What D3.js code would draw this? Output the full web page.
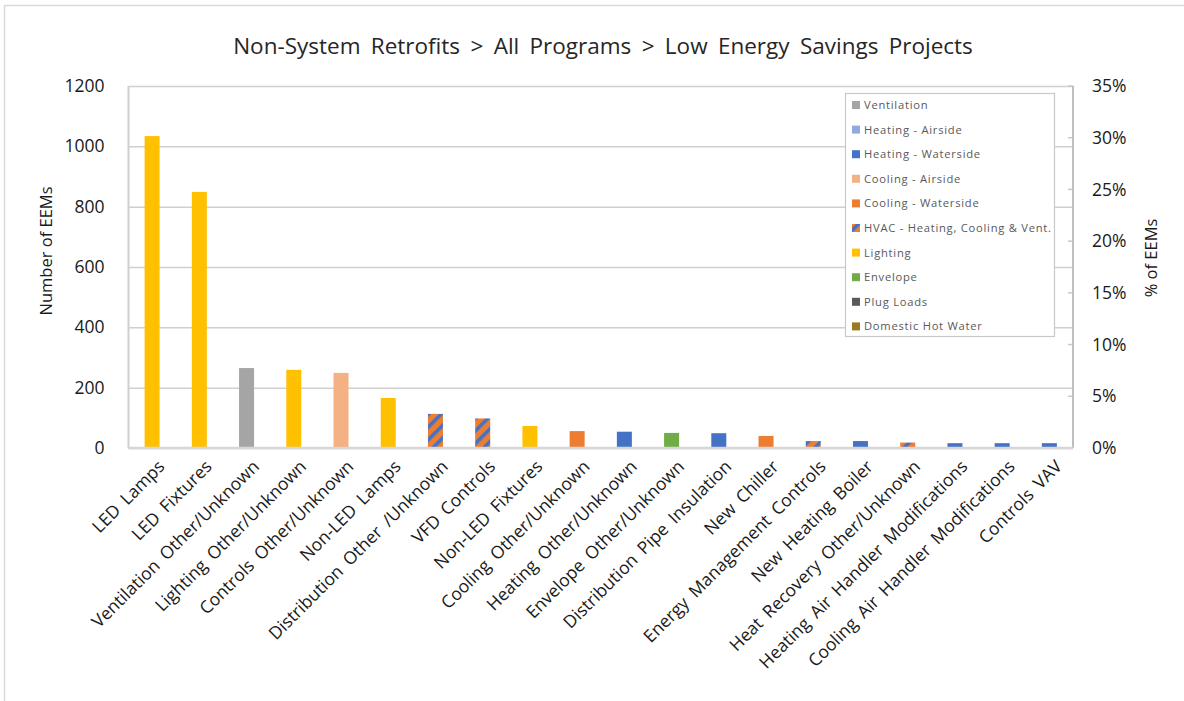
<!DOCTYPE html>
<html>
<head>
<meta charset="utf-8">
<script src="https://cdn.jsdelivr.net/npm/d3@7/dist/d3.min.js"></script>
<style>
  html, body { margin: 0; padding: 0; background: #fff; }
  svg { display: block; }
  text { font-family: "Open Sans", "Noto Sans", sans-serif; }
</style>
</head>
<body>
<svg id="chart" width="1184" height="701"></svg>
<script>
// Measure categories, in descending order of count
const categories = [
  "LED Lamps", "LED Fixtures", "Ventilation Other/Unknown", "Lighting Other/Unknown",
  "Controls Other/Unknown", "Non-LED Lamps", "Distribution Other /Unknown", "VFD Controls",
  "Non-LED Fixtures", "Cooling Other/Unknown", "Heating Other/Unknown", "Envelope Other/Unknown",
  "Distribution Pipe Insulation", "New Chiller", "Energy Management Controls", "New Heating Boiler",
  "Heat Recovery Other/Unknown", "Heating Air Handler Modifications",
  "Cooling Air Handler Modifications", "Controls VAV"
];
// Number of EEMs per category
const counts = [1034, 849, 265, 259, 249, 166, 113, 98, 73, 56, 54, 50, 49, 40, 23, 23, 18, 16, 16, 16];
// End-use group of each category
const groups = [
  "Lighting", "Lighting", "Ventilation", "Lighting", "Cooling - Airside", "Lighting", "HVAC", "HVAC",
  "Lighting", "Cooling - Waterside", "Heating - Waterside", "Envelope", "Heating - Waterside",
  "Cooling - Waterside", "HVAC", "Heating - Waterside", "HVAC", "Heating - Waterside",
  "Heating - Waterside", "Heating - Waterside"
];
// Legend entries and their fills
const legendKeys = [
  "Ventilation", "Heating - Airside", "Heating - Waterside", "Cooling - Airside", "Cooling - Waterside",
  "HVAC", "Lighting", "Envelope", "Plug Loads", "Domestic Hot Water"
];
const legendLabels = [
  "Ventilation", "Heating - Airside", "Heating - Waterside", "Cooling - Airside", "Cooling - Waterside",
  "HVAC - Heating, Cooling & Vent.", "Lighting", "Envelope", "Plug Loads", "Domestic Hot Water"
];
const legendColors = [
  "#a5a5a5", "#8faadc", "#4472c4", "#f4b183", "#ed7d31",
  "url(#hvacHatch)", "#ffc000", "#70ad47", "#595959", "#9c7a24"
];
const leftTicks = [0, 200, 400, 600, 800, 1000, 1200];
const rightTicks = [0, 0.05, 0.10, 0.15, 0.20, 0.25, 0.30, 0.35];

const titleText = "Non-System Retrofits > All Programs > Low Energy Savings Projects";
const yTitle = "Number of EEMs";
const y2Title = "% of EEMs";

const svg = d3.select("#chart");
const plot = { left: 128.5, right: 1073, top: 86, bottom: 448 };

const color = d3.scaleOrdinal().domain(legendKeys).range(legendColors);
const x = d3.scaleBand().domain(categories).range([plot.left, plot.right]).padding(0);
const y = d3.scaleLinear().domain([0, 1200]).range([plot.bottom, plot.top]);
const y2 = d3.scaleLinear().domain([0, 0.35]).range([plot.bottom, plot.top]);
const barW = 15;

// Striped fill for combined HVAC measures
const defs = svg.append("defs");
const pat = defs.append("pattern")
  .attr("id", "hvacHatch")
  .attr("patternUnits", "userSpaceOnUse")
  .attr("width", 9).attr("height", 9)
  .attr("patternTransform", "rotate(45)");
pat.append("rect").attr("width", 9).attr("height", 9).attr("fill", "#ed7d31");
pat.append("rect").attr("width", 3.6).attr("height", 9).attr("fill", "#4472c4");

// Outer chart border
svg.append("rect")
  .attr("x", 4.5).attr("y", 5.5).attr("width", 1200).attr("height", 720)
  .attr("fill", "none").attr("stroke", "#d9d9d9").attr("stroke-width", 1.5);

// Title
svg.append("text")
  .attr("x", 603).attr("y", 54)
  .attr("text-anchor", "middle")
  .attr("font-size", 22.5)
  .attr("word-spacing", 4.5)
  .attr("fill", "#262626")
  .text(titleText);

// Horizontal gridlines
svg.append("g")
  .attr("transform", `translate(${plot.left},0)`)
  .call(d3.axisLeft(y).tickValues(leftTicks).tickSize(-(plot.right - plot.left)).tickFormat(""))
  .call(g => g.select(".domain").remove())
  .call(g => g.selectAll(".tick line").attr("stroke", "#d0d0d0").attr("stroke-width", 1.5));

// Left axis labels
svg.append("g")
  .attr("transform", `translate(${plot.left},0)`)
  .call(d3.axisLeft(y).tickValues(leftTicks).tickSize(0).tickPadding(24).tickFormat(d3.format("d")))
  .call(g => g.select(".domain").remove())
  .call(g => g.selectAll("text").attr("font-size", 17.5).attr("fill", "#1a1a1a")
    .attr("font-family", "Open Sans, sans-serif"));

// Right axis labels
svg.append("g")
  .attr("transform", `translate(${plot.right},0)`)
  .call(d3.axisRight(y2).tickValues(rightTicks).tickSize(0).tickPadding(19).tickFormat(d3.format(".0%")))
  .call(g => g.select(".domain").remove())
  .call(g => g.selectAll("text").attr("font-size", 17.5).attr("fill", "#1a1a1a")
    .attr("font-family", "Open Sans, sans-serif"));

// Right axis inner ticks
svg.append("g")
  .selectAll("line").data(rightTicks).join("line")
  .attr("x1", plot.right - 5).attr("x2", plot.right)
  .attr("y1", d => y2(d)).attr("y2", d => y2(d))
  .attr("stroke", "#c8c8c8").attr("stroke-width", 1.5);

// Bars
svg.append("g")
  .selectAll("rect").data(categories).join("rect")
  .attr("x", d => x(d) + x.bandwidth() / 2 - barW / 2)
  .attr("width", barW)
  .attr("y", (d, i) => y(counts[i]))
  .attr("height", (d, i) => y(0) - y(counts[i]))
  .attr("fill", (d, i) => color(groups[i]));

// Axis lines
svg.append("line")
  .attr("x1", plot.left).attr("x2", plot.left).attr("y1", plot.top).attr("y2", plot.bottom)
  .attr("stroke", "#cfcfcf").attr("stroke-width", 2);
svg.append("line")
  .attr("x1", plot.right).attr("x2", plot.right).attr("y1", plot.top).attr("y2", plot.bottom)
  .attr("stroke", "#bfbfbf").attr("stroke-width", 2);
svg.append("line")
  .attr("x1", plot.left).attr("x2", plot.right).attr("y1", plot.bottom).attr("y2", plot.bottom)
  .attr("stroke", "#d6d6d6").attr("stroke-width", 2.5);

// Category labels, rotated
svg.append("g")
  .selectAll("text").data(categories).join("text")
  .attr("transform", d => `translate(${x(d) + x.bandwidth() / 2 + 5},${plot.bottom + 11}) rotate(-45)`)
  .attr("text-anchor", "end")
  .attr("dy", "0.7em")
  .attr("font-size", 17.5)
  .attr("word-spacing", 3.5)
  .attr("fill", "#1a1a1a")
  .text(d => d);

// Axis titles
svg.append("text")
  .attr("transform", `translate(52,251) rotate(-90)`)
  .attr("text-anchor", "middle")
  .attr("font-size", 16.5).attr("fill", "#1a1a1a")
  .text(yTitle);
svg.append("text")
  .attr("transform", `translate(1157,258) rotate(-90)`)
  .attr("text-anchor", "middle")
  .attr("font-size", 16.5).attr("fill", "#1a1a1a")
  .text(y2Title);

// Legend
const lg = svg.append("g");
lg.append("rect")
  .attr("x", 845.5).attr("y", 93.5).attr("width", 209).attr("height", 243)
  .attr("fill", "#fff").attr("stroke", "#c8c8c8").attr("stroke-width", 1.2);
const item = lg.selectAll("g.item").data(legendKeys).join("g")
  .attr("class", "item")
  .attr("transform", (d, i) => `translate(852,${105 + i * 24.6})`);
item.append("rect")
  .attr("x", 0).attr("y", -4).attr("width", 8).attr("height", 8)
  .attr("fill", d => color(d));
item.append("text")
  .attr("x", 12).attr("dy", "0.35em")
  .attr("font-size", 11.2).attr("letter-spacing", 0.75)
  .attr("fill", "#595959")
  .text((d, i) => legendLabels[i]);
</script>
</body>
</html>
